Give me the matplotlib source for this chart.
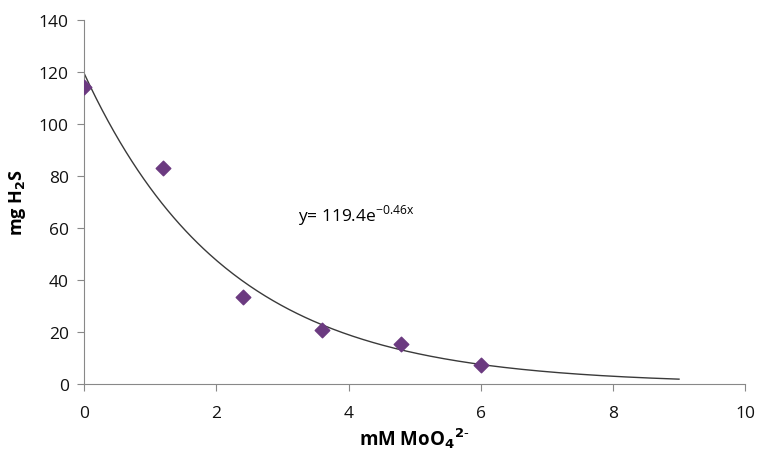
import matplotlib
matplotlib.use('Agg')
import matplotlib.pyplot as plt
import numpy as np

plt.rcParams['font.family'] = ['Open Sans', 'DejaVu Sans']

# measured points
molybdate = [0, 1.2, 2.4, 3.6, 4.8, 6.0]
h2s = [114.3, 83.0, 33.6, 20.9, 15.3, 7.4]

# trendline as printed on the chart
fit_a = 119.4
fit_b = -0.46
fit_range = (0, 9)

fig = plt.figure(figsize=(7.58, 4.52), dpi=100)
ax = fig.add_axes([0.111, 0.148, 0.872, 0.806])

fx = np.linspace(fit_range[0], fit_range[1], 300)
ax.plot(fx, fit_a * np.exp(fit_b * fx), color='#3a3a3a', linewidth=1.0)
ax.scatter(molybdate, h2s, marker='D', s=55, color='#6b3a80', zorder=3)

ax.set_xlim(0, 10)
ax.set_ylim(0, 140)
ax.set_xticks(range(0, 11, 2))
ax.set_yticks(range(0, 141, 20))

for s in ['top', 'right']:
    ax.spines[s].set_visible(False)
for s in ['left', 'bottom']:
    ax.spines[s].set_color('#888888')
ax.tick_params(colors='#888888', labelcolor='#111111', labelsize=12.5,
               length=5, direction='out')
ax.tick_params(axis='x', pad=10)
ax.tick_params(axis='y', pad=6)

ax.text(3.24, 65, r'y= 119.4e$^{\mathregular{-0.46x}}$', fontsize=12.5,
        va='center', ha='left')

ax.set_xlabel(r'mM MoO$_\mathbf{4}$$^\mathbf{2\text{-}}$', fontsize=13.5,
              fontweight='bold', labelpad=3)
ax.set_ylabel(r'mg H$_\mathbf{2}$S', fontsize=13, fontweight='bold', labelpad=8)

plt.savefig('out.png', dpi=100)
